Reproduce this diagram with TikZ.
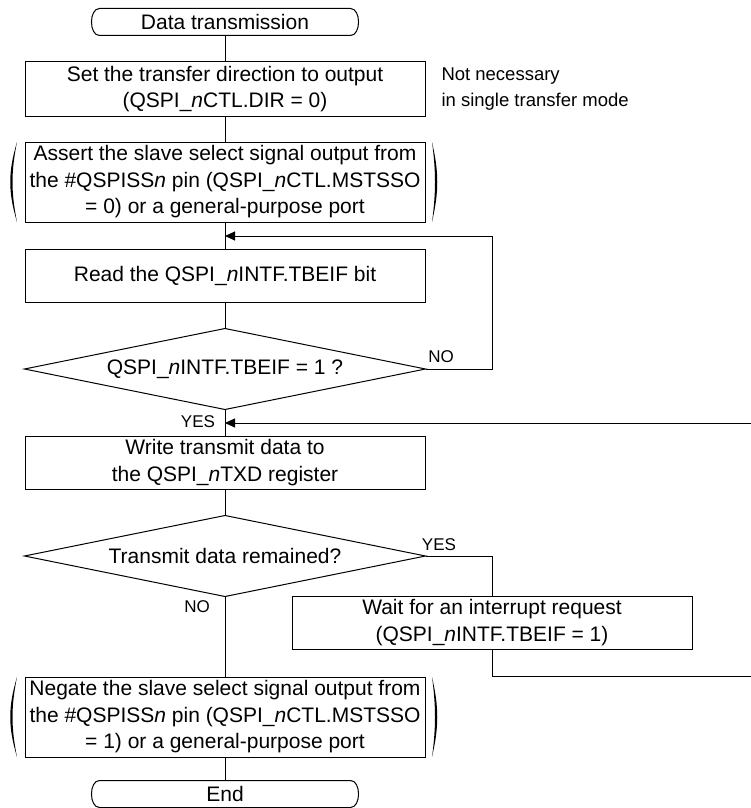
\documentclass[tikz,border=0pt]{standalone}
\usepackage{fontspec}
\setmainfont{Liberation Sans}
\usetikzlibrary{arrows.meta,calc}
\begin{document}
\begin{tikzpicture}[x=1pt,y=-1pt,line width=1pt,
  every node/.style={font=\fontsize{21}{26.5}\selectfont,inner sep=0pt},
  box/.style={draw,minimum width=400pt,align=center},
  term/.style={minimum width=266pt,minimum height=26pt},
  dia/.style={minimum width=400pt,minimum height=80pt},
  lbl/.style={font=\fontsize{17}{20}\selectfont},
  arr/.style={-{Triangle[length=10pt,width=9pt]}}]
\useasboundingbox (0,0) rectangle (751,808);

% nodes
\node[term] (start) at (225,22) {Data transmission};
\node[box,minimum height=54pt] (b1) at (225,89) {Set the transfer direction to output\\(QSPI\_\textit{n}CTL.DIR = 0)};
\node[anchor=west,align=left,font=\fontsize{18.5}{26}\selectfont] (note) at (441,89) {Not necessary\\in single transfer mode};
\node[box,minimum height=80pt] (b2) at (225,182) {Assert the slave select signal output from\\the \#QSPISS\textit{n} pin (QSPI\_\textit{n}CTL.MSTSSO\\= 0) or a general-purpose port};
\coordinate (j1) at (225,236);
\node[box,minimum height=53pt] (b3) at (225,275.5) {Read the QSPI\_\textit{n}INTF.TBEIF bit};
\node[dia] (d1) at (225,369) {QSPI\_\textit{n}INTF.TBEIF = 1 ?};
\node[lbl] (no1) at (441,357) {NO};
\coordinate (r1) at (492,236);
\node[lbl] (yes1) at (198,422) {YES};
\coordinate (j2) at (225,423);
\node[box,minimum height=53pt] (b4) at (225,462.5) {Write transmit data to\\the QSPI\_\textit{n}TXD register};
\node[dia] (d2) at (225,556) {Transmit data remained?};
\node[lbl] (yes2) at (439,545) {YES};
\node[lbl] (no2) at (197,607) {NO};
\node[box,minimum height=53pt] (b5) at (492,622.5) {Wait for an interrupt request\\(QSPI\_\textit{n}INTF.TBEIF = 1)};
\coordinate (r2) at (754,676);
\coordinate (r3) at (754,423);
\node[box,minimum height=80pt] (b6) at (225,717) {Negate the slave select signal output from\\the \#QSPISS\textit{n} pin (QSPI\_\textit{n}CTL.MSTSSO\\= 1) or a general-purpose port};
\node[term] (end) at (225,794) {End};

% terminal outlines
\foreach \t in {start,end}{
  \draw ([xshift=8pt]\t.north west) -- ([xshift=-8pt]\t.north east)
    .. controls +(10.7,0) and +(10.7,0) .. ([xshift=-8pt]\t.south east)
    -- ([xshift=8pt]\t.south west)
    .. controls +(-10.7,0) and +(-10.7,0) .. ([xshift=8pt]\t.north west) -- cycle;
}
% diamonds
\draw (d1.west) -- (d1.north) -- (d1.east) -- (d1.south) -- cycle;
\draw (d2.west) -- (d2.north) -- (d2.east) -- (d2.south) -- cycle;

% parentheses
\foreach \dy in {0,535}{
  \fill (17,142+\dy) .. controls (8,172+\dy) and (8,192+\dy) .. (17,222+\dy)
        .. controls (11,192+\dy) and (11,172+\dy) .. (17,142+\dy) -- cycle;
  \fill (432,142+\dy) .. controls (439,172+\dy) and (439,192+\dy) .. (432,222+\dy)
        .. controls (436,192+\dy) and (436,172+\dy) .. (432,142+\dy) -- cycle;
}

% connectors
\draw (start) -- (b1);
\draw (b1) -- (b2);
\draw (b2) -- (b3);
\draw (b3) -- (d1);
\draw (d1) -- (b4);
\draw (b4) -- (d2);
\draw (d2) -- (b6);
\draw (b6) -- (end);
\draw[arr] (d1.east) -| (r1) -- (j1);
\draw (d2.east) -| (b5.north);
\draw[arr] (b5.south) |- (r2) -- (r3) -- (j2);
\end{tikzpicture}
\end{document}
